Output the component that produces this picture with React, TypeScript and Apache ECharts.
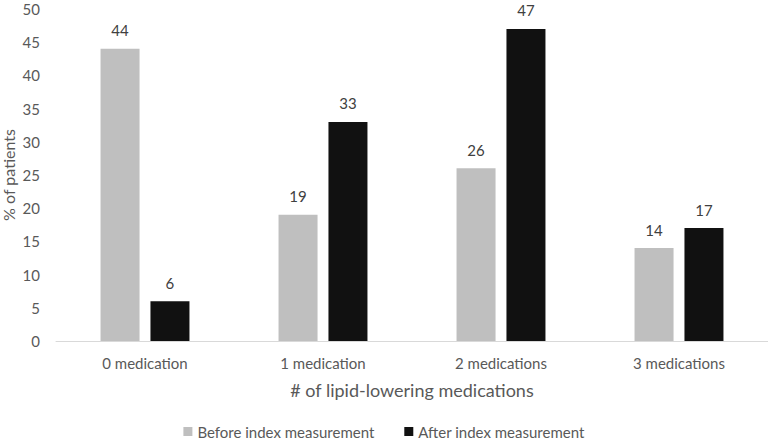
import React, { useEffect, useRef } from "react";
import * as echarts from "echarts";

const categories = ["0 medication", "1 medication", "2 medications", "3 medications"];
const beforeValues = [44, 19, 26, 14];
const afterValues = [6, 33, 47, 17];
const seriesNames = ["Before index measurement", "After index measurement"];

const FONT = "Lato, 'Open Sans', sans-serif";
const TXT = "#595959";

export default function App() {
  const ref = useRef<HTMLDivElement>(null);
  useEffect(() => {
    const chart = echarts.init(ref.current!, null, { renderer: "svg" });
    chart.setOption({
      animation: false,
      textStyle: { fontFamily: FONT },
      grid: { left: 56, right: 0, top: 9, bottom: 103, containLabel: false, outerBoundsMode: "none" },
      legend: {
        bottom: 0,
        left: "center",
        itemWidth: 9,
        itemHeight: 9,
        itemGap: 30,
        icon: "rect",
        textStyle: { fontFamily: FONT, fontSize: 15, color: TXT },
        data: seriesNames,
      },
      xAxis: {
        type: "category",
        data: categories,
        name: "# of lipid-lowering medications",
        nameLocation: "middle",
        nameGap: 40,
        nameMoveOverlap: false,
        nameTextStyle: { fontFamily: FONT, fontSize: 18, color: TXT },
        axisLine: { lineStyle: { color: "#d9d9d9", width: 1 } },
        axisTick: { show: false },
        axisLabel: { fontFamily: FONT, fontSize: 15, color: TXT, margin: 14 },
      },
      yAxis: {
        type: "value",
        min: 0,
        max: 50,
        interval: 5,
        name: "% of patients",
        nameLocation: "middle",
        nameGap: 40,
        nameMoveOverlap: false,
        nameTextStyle: { fontFamily: FONT, fontSize: 16, color: TXT },
        axisLine: { show: false },
        axisTick: { show: false },
        splitLine: { show: false },
        axisLabel: { fontFamily: FONT, fontSize: 15, color: TXT, margin: 16 },
      },
      series: [
        {
          name: seriesNames[0],
          type: "bar",
          data: beforeValues,
          barWidth: 39,
          barGap: "28%",
          itemStyle: { color: "#bfbfbf" },
          label: { show: true, position: "top", distance: 11, fontFamily: FONT, fontSize: 15, color: "#404040" },
        },
        {
          name: seriesNames[1],
          type: "bar",
          data: afterValues,
          barWidth: 39,
          barGap: "28%",
          itemStyle: { color: "#111111" },
          label: { show: true, position: "top", distance: 11, fontFamily: FONT, fontSize: 15, color: "#404040" },
        },
      ],
    });
    return () => chart.dispose();
  }, []);
  return <div ref={ref} style={{ width: 768, height: 444, position: "absolute", left: 0, top: 0 }} />;
}
